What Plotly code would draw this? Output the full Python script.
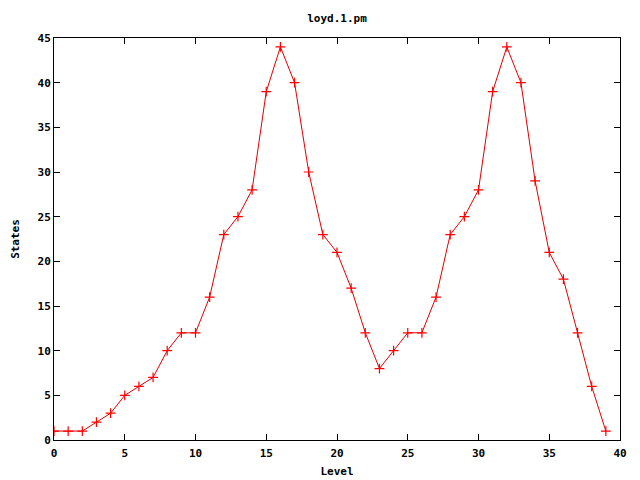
import plotly.graph_objects as go

levels = list(range(40))
states = [1, 1, 1, 2, 3, 5, 6, 7, 10, 12, 12, 16, 23, 25, 28, 39, 44, 40, 30, 23,
          21, 17, 12, 8, 10, 12, 12, 16, 23, 25, 28, 39, 44, 40, 29, 21, 18, 12, 6, 1]
x_ticks = list(range(0, 41, 5))
y_ticks = list(range(0, 46, 5))

font = dict(family="DejaVu Sans Mono", size=11, color="black", weight="bold")

fig = go.Figure()
fig.add_trace(go.Scatter(
    x=levels, y=states, mode="lines+markers",
    line=dict(color="#e00000", width=1),
    marker=dict(symbol="cross-thin", size=7, line=dict(color="#ff0000", width=1.2)),
    showlegend=False,
))

axis_common = dict(
    showgrid=False, zeroline=False, showline=True, linecolor="black", linewidth=1,
    mirror="ticks", ticks="inside", ticklen=6, tickcolor="black", tickfont=font,
    automargin=False,
)
fig.update_layout(
    width=640, height=480,
    margin=dict(l=46, r=28, t=30, b=48, autoexpand=False),
    paper_bgcolor="white", plot_bgcolor="white",
    title=dict(text="loyd.1.pm", x=(54 - 8 + 566 / 2) / 640, xanchor="center", y=0.979, yanchor="middle", font=font),
    xaxis=dict(range=[0, 40], tickvals=x_ticks, ticklabelstandoff=3,
               title=dict(text="Level", font=font, standoff=8), **axis_common),
    yaxis=dict(range=[0, 45], tickvals=y_ticks,
               title=dict(text="States", font=font, standoff=15), **axis_common),
)
fig.write_html("out.html")
